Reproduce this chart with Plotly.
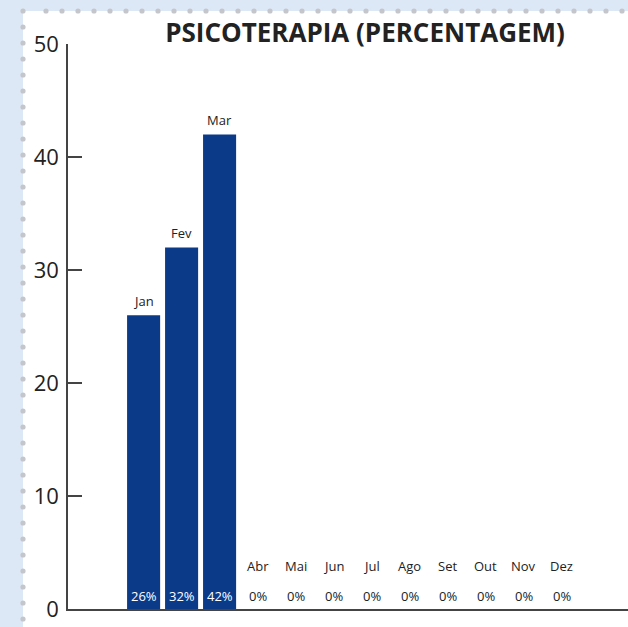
import plotly.graph_objects as go

months = ["Jan", "Fev", "Mar", "Abr", "Mai", "Jun", "Jul", "Ago", "Set", "Out", "Nov", "Dez"]
values = [26, 32, 42, 0, 0, 0, 0, 0, 0, 0, 0, 0]
y_ticks = [0, 10, 20, 30, 40, 50]
title_text = "PSICOTERAPIA (PERCENTAGEM)"

BAR = "#0b3a88"
TXT = "#222222"
FONT = "Open Sans, Noto Sans, sans-serif"

W, H = 628, 627
ML, MR, MT, MB = 68, 0, 44, 18
PW, PH = W - ML - MR, H - MT - MB

fig = go.Figure()
fig.add_trace(go.Bar(
    x=months, y=values, marker=dict(color=BAR, line=dict(width=0)),
    hoverinfo="skip", showlegend=False,
))

annotations = []
for m, v in zip(months, values):
    # percentage label at base
    annotations.append(dict(
        x=m, y=0, xref="x", yref="y", text=f"{v}%", showarrow=False,
        yanchor="bottom", yshift=2,
        font=dict(family=FONT, size=13, color="white" if v > 0 else TXT),
    ))
    # month label above bar (or above the percentage when empty)
    annotations.append(dict(
        x=m, y=v, xref="x", yref="y", text=m, showarrow=False,
        yanchor="bottom", yshift=3 if v > 0 else 32,
        font=dict(family=FONT, size=13, color=TXT),
    ))

def px_to_paper_x(px):
    return (px - ML) / PW

def px_to_paper_y(py):
    return (H - MB - py) / PH

shapes = [dict(
    type="rect", xref="paper", yref="paper", layer="below",
    x0=px_to_paper_x(23), x1=px_to_paper_x(640),
    y0=px_to_paper_y(640), y1=px_to_paper_y(11),
    fillcolor="white", line=dict(width=0),
)]
# dotted border decoration
r = 2.6
dot = "#c4c6cc"
top_dots = [23] + list(range(46, 628, 16))
for px in top_dots:
    shapes.append(dict(type="circle", xref="paper", yref="paper", layer="above",
                       x0=px_to_paper_x(px - r), x1=px_to_paper_x(px + r),
                       y0=px_to_paper_y(11 + r), y1=px_to_paper_y(11 - r),
                       fillcolor=dot, line=dict(width=0)))
for py in range(27, 627, 16):
    shapes.append(dict(type="circle", xref="paper", yref="paper", layer="above",
                       x0=px_to_paper_x(23 - r), x1=px_to_paper_x(23 + r),
                       y0=px_to_paper_y(py + r), y1=px_to_paper_y(py - r),
                       fillcolor=dot, line=dict(width=0)))

fig.update_layout(
    width=W, height=H,
    margin=dict(l=ML, r=MR, t=MT, b=MB, pad=0),
    paper_bgcolor="#dce8f5",
    plot_bgcolor="rgba(0,0,0,0)",
    bargap=0.13,
    title=dict(text=f"<b>{title_text}</b>", x=365 / W, xanchor="center",
               y=1 - 33 / H, yanchor="middle", xref="container", yref="container",
               font=dict(family=FONT, size=26, color=TXT)),
    xaxis=dict(range=[-1.99, 12.75], showticklabels=False, ticks="",
               showgrid=False, zeroline=False, showline=True,
               linecolor="#444444", linewidth=1.5, fixedrange=True),
    yaxis=dict(range=[0, 50], tickvals=y_ticks, ticks="inside", ticklen=14,
               tickwidth=1.5, tickcolor="#444444", showgrid=False, zeroline=False,
               showline=True, linecolor="#444444", linewidth=1.5,
               ticklabelstandoff=3,
               tickfont=dict(family=FONT, size=22, color=TXT), fixedrange=True),
    annotations=annotations,
    shapes=shapes,
)

fig.write_html("out.html", config={"displayModeBar": False},
               post_script="document.body.style.margin='0';document.body.style.overflow='hidden';")
